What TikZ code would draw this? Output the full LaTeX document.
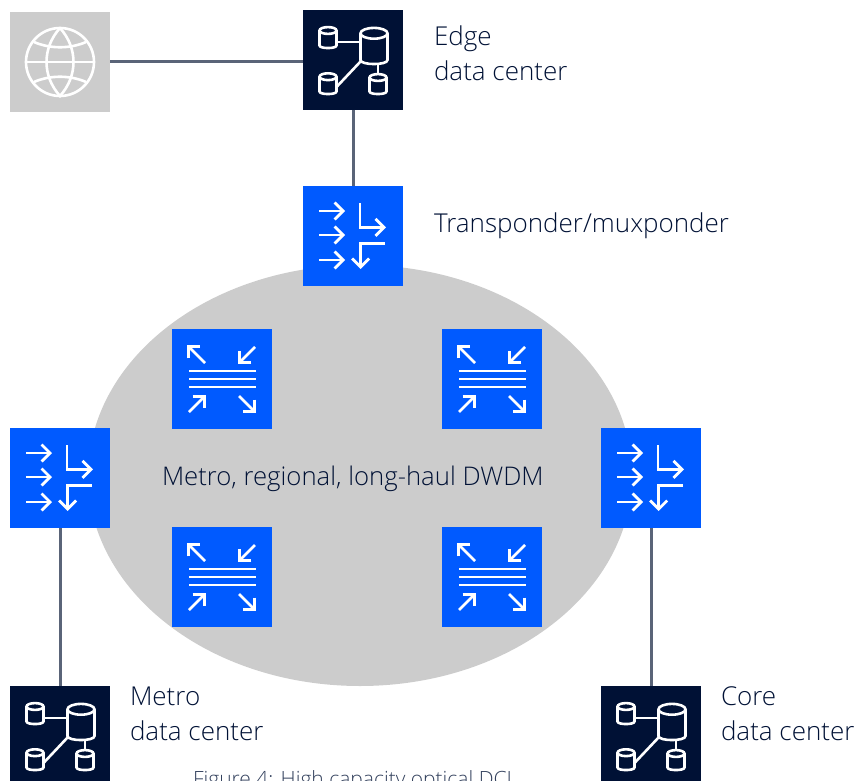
\documentclass[tikz,border=0pt]{standalone}
\usepackage{xcolor}
\usepackage{fontspec}
\setmainfont[UprightFont={* Light}]{Open Sans}
\usetikzlibrary{arrows.meta,shapes.geometric}

\definecolor{navybox}{HTML}{001135}
\definecolor{bluebox}{HTML}{005AFF}
\definecolor{greybox}{HTML}{CCCCCC}
\definecolor{linkgrey}{HTML}{5A6478}
\definecolor{labeltext}{HTML}{001135}

% xc, top, half width, bottom
\newcommand{\dbcyl}[4]{
    \draw (#1,#2) ellipse [x radius=#3, y radius=0.4*#3];
    \draw (#1-#3,#2) -- (#1-#3,#4) .. controls (#1-#3,#4+0.4*#3) and (#1+#3,#4+0.4*#3) .. (#1+#3,#4) -- (#1+#3,#2);
}

\tikzset{
    tile/.style={minimum size=100pt, inner sep=0pt, outer sep=0pt},
    navytile/.style={tile, fill=navybox},
    bluetile/.style={tile, fill=bluebox},
    greytile/.style={tile, fill=greybox},
    link/.style={draw=linkgrey, line width=3pt},
    lbl/.style={inner sep=0pt, outer sep=0pt, text=labeltext, font=\fontsize{26}{35}\selectfont, align=left, anchor=west},
    barb/.style={-{Straight Barb[length=8.5pt, width=17pt, line width=2.8pt]}},
    dbicon/.pic={
        \begin{scope}[white, line width=2.6pt]
            \dbcyl{21}{-26.7}{13.5}{0}
            \dbcyl{-25}{-29.5}{8.5}{-14.5}
            \dbcyl{-25}{16.7}{8.5}{31.5}
            \dbcyl{25}{17.5}{8.5}{31.5}
            \draw (-16.5,-18) -- (7.5,-18);
            \draw (-16.5,27) -- (8,1);
            \draw (25,4) -- (25,14);
        \end{scope}
    },
    muxicon/.pic={
        \begin{scope}[white, line width=2.8pt, line cap=butt]
            \foreach \y in {-25,-1,24}
                \draw[barb] (-34,\y) -- (-8,\y);
            \draw[barb] (7,-33) -- (7,-8.7) -- (33,-8.7);
            \draw[barb] (32,7.3) -- (7.7,7.3) -- (7.7,33);
        \end{scope}
    },
    roadmicon/.pic={
        \begin{scope}[white, line width=2.8pt]
            \foreach \y in {-8,0,8}
                \draw (-33,\y) -- (34,\y);
            \draw[barb] (-17,-16) -- (-35,-34);
            \draw[barb] (33,-32) -- (16,-15);
            \draw[barb] (-33,33) -- (-16,16);
            \draw[barb] (17,17) -- (34,34);
        \end{scope}
    },
    globeicon/.pic={
        \begin{scope}[white, line width=2.6pt]
            \draw (0,0) circle [radius=34];
            \draw (-34,0) -- (34,0);
            \draw (0,-34) .. controls (-18,-14) and (-18,14) .. (0,34) .. controls (18,14) and (18,-14) .. (0,-34);
            \draw (-26,-20) .. controls (-10,-13) and (10,-13) .. (26,-20);
            \draw (-26,20) .. controls (-10,13) and (10,13) .. (26,20);
        \end{scope}
    }
}

\begin{document}
\begin{tikzpicture}[x=1pt, y=-1pt]
    \useasboundingbox (0,0) rectangle (854,781);
    \clip (0,0) rectangle (854,781);

    % DWDM cloud
    \node[ellipse, fill=greybox, inner sep=0pt, minimum width=544pt, minimum height=421pt] (cloud) at (360,475.5) {};

    % tiles
    \node[greytile] (globe) at (60,62) {};
    \node[navytile] (edge) at (353,60) {};
    \node[bluetile] (muxtop) at (353,236) {};
    \node[bluetile] (muxleft) at (60,478) {};
    \node[bluetile] (muxright) at (651,478) {};
    \node[navytile] (metro) at (60,736) {};
    \node[navytile] (core) at (651,736) {};
    \node[bluetile] (roadma) at (222,379) {};
    \node[bluetile] (roadmb) at (492,379) {};
    \node[bluetile] (roadmc) at (222,577) {};
    \node[bluetile] (roadmd) at (492,577) {};

    % icons
    \pic at (globe) {globeicon};
    \pic at (edge) {dbicon};
    \pic at (metro) {dbicon};
    \pic at (core) {dbicon};
    \foreach \n in {muxtop,muxleft,muxright}
        \pic at (\n) {muxicon};
    \foreach \n in {roadma,roadmb,roadmc,roadmd}
        \pic at (\n) {roadmicon};

    % connectors
    \draw[link] (globe.east) -- (globe.east -| edge.west);
    \draw[link] (edge) -- (muxtop);
    \draw[link] (muxleft) -- (metro);
    \draw[link] (muxright) -- (core);

    % labels
    \node[lbl] (edgelbl) at (434,53) {Edge\\data center};
    \node[lbl] (muxlbl) at (434,226) {Transponder/muxponder};
    \node[lbl, font=\fontsize{25.7}{35}\selectfont] (cloudlbl) at (162,478.5) {Metro, regional, long-haul DWDM};
    \node[lbl] (metrolbl) at (130,713.5) {Metro\\data center};
    \node[lbl] (corelbl) at (721,713.5) {Core\\data center};
    \node[lbl, font=\fontsize{21}{24}\selectfont, text=labeltext!80] (caption) at (193,781) {Figure 4: High capacity optical DCI};
\end{tikzpicture}
\end{document}
